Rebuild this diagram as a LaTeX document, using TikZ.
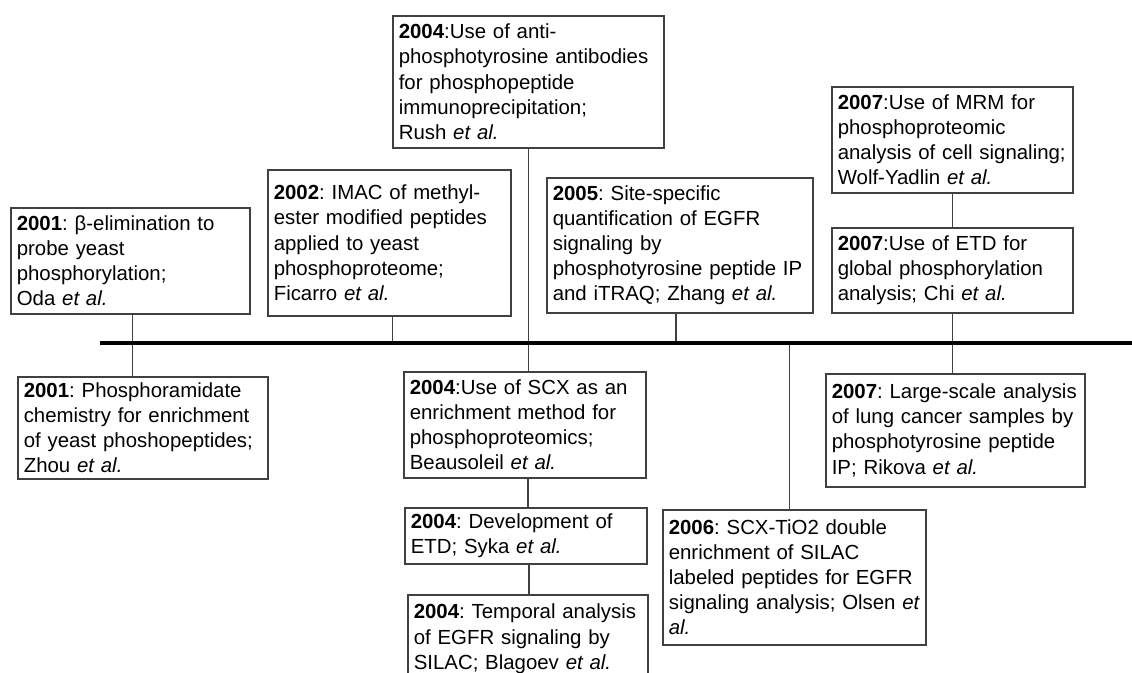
\documentclass[tikz,border=0pt]{standalone}
\usepackage{fontspec}
\setmainfont{Liberation Sans}
\usepackage{tikz}
\hyphenpenalty=10000
\exhyphenpenalty=10000
\tikzset{
  event/.style={draw=black!75, line width=1.6pt, fill=white, anchor=north west,
    align=left, inner xsep=6pt, inner ysep=3pt,
    font=\fontsize{20.4}{25.2}\selectfont\frenchspacing},
  link/.style={draw=black!75, line width=1.6pt},
  timeline/.style={draw=black, line width=3.2pt}
}
\newcommand{\yr}[1]{\textbf{#1}}
\newcommand{\etal}{\textit{et al.}}

\begin{document}
\begin{tikzpicture}[x=1pt, y=-1pt]
    \useasboundingbox (0,0) rectangle (1132,672);

    % Events above the timeline
    \node[event, text width=227pt, minimum height=106pt] (oda) at (10,207)
      {\yr{2001}: β-elimination to\\probe yeast\\phosphorylation;\\Oda \etal};
    \node[event, text width=231pt, minimum height=146pt] (ficarro) at (267,169)
      {\yr{2002}: IMAC of methyl-\\ester modified peptides\\applied to yeast\\phosphoproteome;\\Ficarro \etal};
    \node[event, text width=259pt, minimum height=132pt] (rush) at (392,15)
      {\yr{2004}:Use of anti-\\phosphotyrosine antibodies\\for phosphopeptide\\immunoprecipitation;\\Rush \etal};
    \node[event, text width=254pt, minimum height=135pt] (zhang) at (546,177)
      {\yr{2005}: Site-specific\\quantification of EGFR\\signaling by\\phosphotyrosine peptide IP\\and iTRAQ; Zhang \etal};
    \node[event, text width=229pt, minimum height=106pt] (wolf) at (831,86)
      {\yr{2007}:Use of MRM for\\phosphoproteomic\\analysis of cell signaling;\\Wolf-Yadlin \etal};
    \node[event, text width=229pt, minimum height=85pt] (chi) at (831,227)
      {\yr{2007}:Use of ETD for\\global phosphorylation\\analysis; Chi \etal};

    % Events below the timeline
    \node[event, text width=238pt, minimum height=102pt] (zhou) at (17,376)
      {\yr{2001}: Phosphoramidate\\chemistry for enrichment\\of yeast phoshopeptides;\\Zhou \etal};
    \node[event, text width=230pt, minimum height=106pt] (beau) at (403,371)
      {\yr{2004}:Use of SCX as an\\enrichment method for\\phosphoproteomics;\\Beausoleil \etal};
    \node[event, text width=230pt, minimum height=56pt] (syka) at (404,507)
      {\yr{2004}: Development of\\ETD; Syka \etal};
    \node[event, text width=228pt, minimum height=88pt] (blagoev) at (407,594)
      {\yr{2004}: Temporal analysis\\of EGFR signaling by\\SILAC; Blagoev \etal};
    \node[event, text width=251pt, minimum height=135pt] (olsen) at (662,509)
      {\yr{2006}: SCX-TiO2 double\\enrichment of SILAC\\labeled peptides for EGFR\\\mbox{signaling analysis; Olsen \textit{et}}\\\textit{al.}};
    \node[event, text width=247pt, minimum height=113pt] (rikova) at (825,373)
      {\yr{2007}: Large-scale analysis\\of lung cancer samples by\\phosphotyrosine peptide\\IP; Rikova \etal};

    % Timeline ends
    \coordinate (tl) at (100,343);
    \coordinate (tr) at (1132,343);

    % Connectors
    \draw[link] ([xshift=2pt]oda.south) -- ([xshift=2pt]oda.south |- zhou.north);
    \draw[link] ([xshift=3pt]ficarro.south) -- ([xshift=3pt]ficarro.south |- tl);
    \draw[link] (rush.south) -- (rush.south |- beau.north);
    \draw[link] ([xshift=3pt]beau.south) -- ([xshift=3pt]beau.south |- syka.north);
    \draw[link] ([xshift=3pt]syka.south) -- ([xshift=3pt]syka.south |- blagoev.north);
    \draw[link] ([xshift=-4pt]zhang.south) -- ([xshift=-4pt]zhang.south |- tl);
    \draw[link] ([xshift=-5pt]olsen.north) -- ([xshift=-5pt]olsen.north |- tl);
    \draw[link] (wolf.south) -- (wolf.south |- chi.north);
    \draw[link] (chi.south) -- (chi.south |- rikova.north);

    % Timeline
    \draw[timeline] (tl) -- (tr);
\end{tikzpicture}
\end{document}
